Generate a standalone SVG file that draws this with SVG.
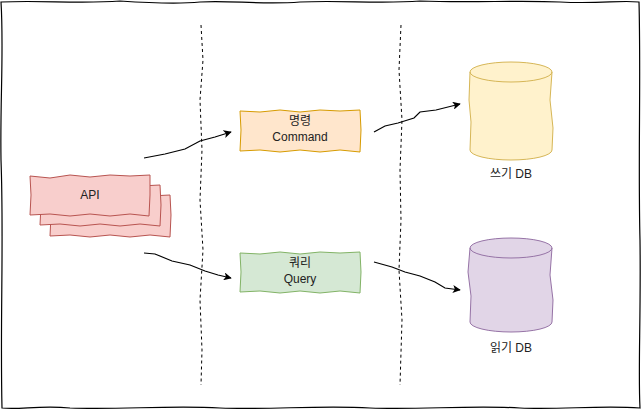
<svg xmlns="http://www.w3.org/2000/svg" width="641" height="411" viewBox="0 0 641 411">
<defs>
<marker id="ah" viewBox="0 0 10 10" refX="9" refY="5" markerWidth="8" markerHeight="8" orient="auto" markerUnits="userSpaceOnUse">
<path d="M0,0 L10,5 L0,10 L2.5,5 Z" fill="#000"/>
</marker>
</defs>
<style>
.t{font-family:"Liberation Sans",Arial,"Noto Sans CJK KR",sans-serif;font-size:12px;fill:#222;text-anchor:middle}
.c{fill:none;stroke:#000;stroke-width:1.2;marker-end:url(#ah)}
.d{fill:none;stroke:#000;stroke-width:1;stroke-dasharray:3,3}
</style>
<rect width="641" height="411" fill="#fff"/>
<g id="frame">
<path d="M1,2 C40,0 80,4 120,1 C150,3 180,4 200,2 C230,0 260,5 300,2 C340,0 380,4 420,1 C470,3 520,0 560,2 C600,4 620,0 639,2 C641,80 638,160 640,240 C641,320 638,370 640,408 C600,405 560,410 520,408 C470,405 420,410 370,408 C320,405 270,410 220,408 C170,405 120,410 70,408 C40,405 20,410 2,408 C0,320 4,240 1,160 C0,100 4,50 1,2 Z" fill="none" stroke="#000" stroke-width="1.2"/>
</g>
<g id="separators">
<path class="d" d="M201,25 L203,60 L200,100 L202,150 L200,200 L203,250 L200,300 L202,350 L201,385"/>
<path class="d" d="M401,25 L399,70 L402,120 L400,170 L401,220 L399,270 L402,320 L400,385"/>
</g>
<g id="api">
<path d="M50,196 L70,198 L90,195 L110,197 L130,195 L150,196 L170,195 L171,215 L170,237 L150,235 L130,237 L110,235 L90,237 L70,235 L50,236 L51,215 Z" fill="#f8cecc" stroke="#b85450"/>
<path d="M40,186 L60,188 L80,185 L100,187 L120,185 L140,186 L160,185 L161,205 L160,226 L140,224 L120,226 L100,224 L80,226 L60,224 L40,225 L41,205 Z" fill="#f8cecc" stroke="#b85450"/>
<path d="M30,176 L50,178 L70,175 L90,177 L110,175 L130,176 L150,175 L150,195 L149,216 L130,214 L110,216 L90,214 L70,216 L50,214 L30,215 L31,195 Z" fill="#f8cecc" stroke="#b85450"/>
<text class="t" x="90" y="199">API</text>
</g>
<g id="command">
<path d="M240,111 L260,112 L280,110 L300,112 L320,110 L340,111 L360,110 L361,130 L360,152 L340,150 L320,152 L300,150 L280,152 L260,150 L240,151 L241,130 Z" fill="#ffe6cc" stroke="#d79b00"/>
<text class="t" x="300" y="125">명령</text>
<text class="t" x="300" y="141">Command</text>
</g>
<g id="query">
<path d="M240,253 L260,254 L280,252 L300,254 L320,252 L340,253 L360,252 L361,272 L360,293 L340,291 L320,293 L300,291 L280,293 L260,291 L240,292 L241,272 Z" fill="#d5e8d4" stroke="#82b366"/>
<text class="t" x="300" y="267">쿼리</text>
<text class="t" x="300" y="283">Query</text>
</g>
<g id="writedb">
<path d="M470,72 A41,10 0 0 1 552,72 L550,100 L553,128 L552,150 A41,10 0 0 1 470,150 L471,122 L469,100 Z" fill="#fff2cc" stroke="#d6b656"/>
<path d="M470,72 A41,10 0 0 0 552,72" fill="none" stroke="#d6b656"/>
<text class="t" x="511" y="178">쓰기 DB</text>
</g>
<g id="readdb">
<path d="M470,248 A41,10 0 0 1 552,248 L550,275 L553,300 L552,322 A41,10 0 0 1 470,322 L471,296 L468,272 Z" fill="#e1d5e7" stroke="#9673a6"/>
<path d="M470,248 A41,10 0 0 0 552,248" fill="none" stroke="#9673a6"/>
<text class="t" x="511" y="352">읽기 DB</text>
</g>
<g id="connectors">
<path class="c" d="M144,158 L165,154 L185,149 L200,141 L215,137 L231,132"/>
<path class="c" d="M374,132 L385,126 L398,123 L414,118 L420,112 L436,110 L460,104"/>
<path class="c" d="M144,253 L155,254 L172,261 L190,265 L205,271 L218,275 L231,278"/>
<path class="c" d="M374,262 L392,267 L405,272 L420,276 L435,282 L445,288 L460,290"/>
</g>
</svg>
